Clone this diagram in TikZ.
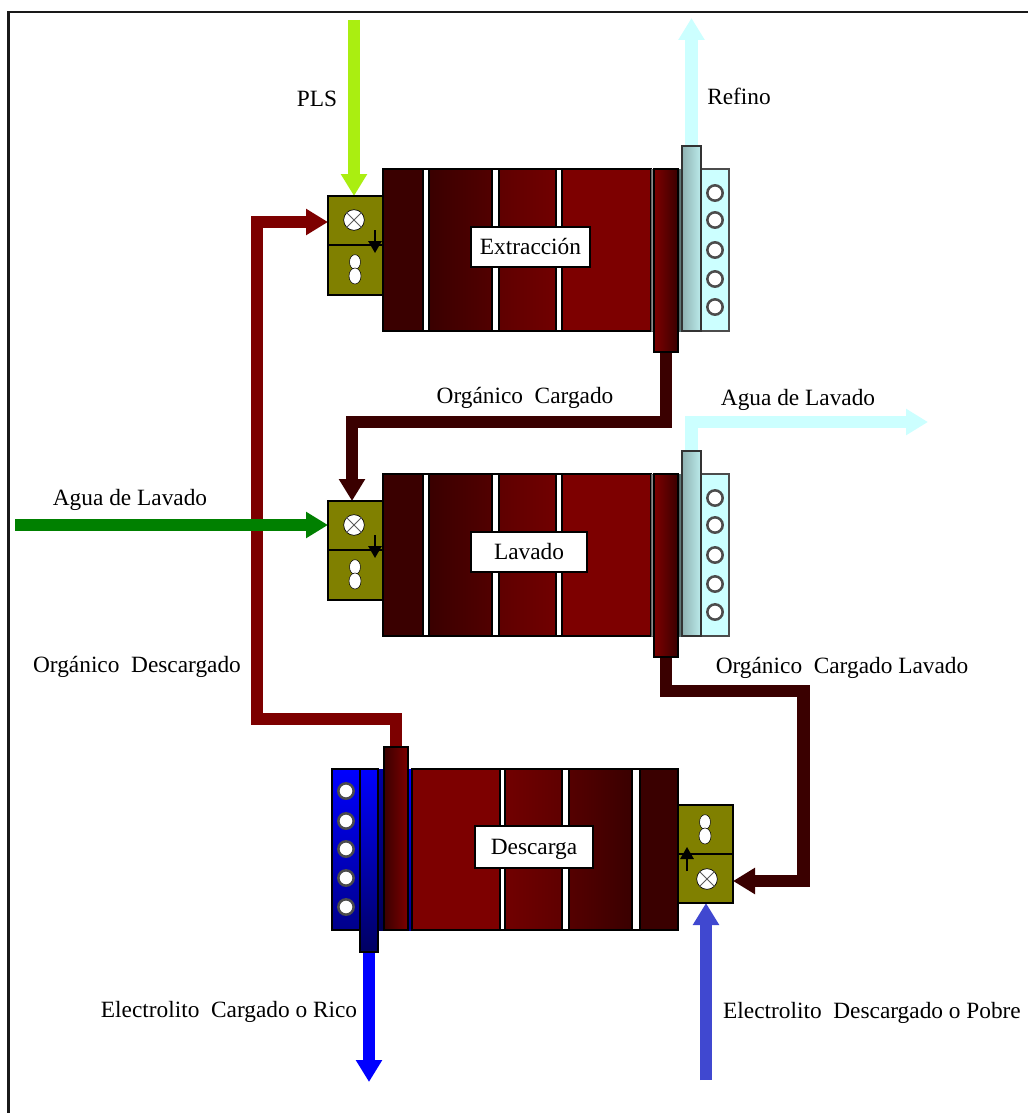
\documentclass[tikz,border=0pt]{standalone}
\usepackage{fontspec}
\setmainfont{Liberation Serif}
\usetikzlibrary{arrows.meta,shapes.geometric,backgrounds}
\definecolor{dk}{HTML}{3A0000}
\definecolor{rd}{HTML}{7D0000}
\definecolor{olv}{HTML}{808000}
\definecolor{pale}{HTML}{CCFFFF}
\definecolor{lime}{HTML}{AAEE11}
\definecolor{grn}{HTML}{008000}
\definecolor{ind}{HTML}{4048D0}
\definecolor{blu}{HTML}{0000FF}
\definecolor{nav}{HTML}{00008B}
\tikzset{
  part/.style={draw=black,line width=1.1pt,inner sep=0pt,outer sep=0pt,rectangle},
  gap/.style={part,fill=white,line width=.8pt},
  mix/.style={part,fill=olv},
  tag/.style={part,fill=white},
  lbl/.style={font=\fontsize{17.5}{20}\selectfont,inner sep=0pt},
  hole/.style={circle,draw=black!70,line width=1.9pt,fill=white,minimum size=11.5pt,inner sep=0pt},
  flow/.style={line width=9.6pt,line join=miter,-{Triangle[length=16.5pt,width=18.75pt]}},
}
\newcommand{\bx}[6]{% name x1 y1 x2 y2 opts
  \pgfmathsetmacro{\bxw}{(#4-#2)*.75}\pgfmathsetmacro{\bxh}{(#5-#3)*.75}
  \pgfmathsetmacro{\bxx}{(#2+#4)/2}\pgfmathsetmacro{\bxy}{(#3+#5)/2}
  \node[part,#6,minimum width=\bxw pt,minimum height=\bxh pt] (#1) at (\bxx,\bxy) {};
}
\newcommand{\valve}[3]{% name x y
  \node[hole,draw=black,line width=.5pt,minimum size=15.5pt] (#1) at (#2,#3) {};
  \draw[black!65,line width=.7pt] (#1.north west)--(#1.south east) (#1.north east)--(#1.south west);
}
\newcommand{\peanut}[3]{% name x y
  \pgfmathsetmacro{\pa}{#3-7}\pgfmathsetmacro{\pb}{#3+7}
  \node[ellipse,draw=black,line width=.4pt,fill=white,inner sep=0pt,minimum width=8.2pt,minimum height=11pt] (#1a) at (#2,\pa) {};
  \node[ellipse,draw=black,line width=.4pt,fill=white,inner sep=0pt,minimum width=9pt,minimum height=12pt] (#1b) at (#2,\pb) {};
}
\newcommand{\unitup}[2]{% prefix dy
  \pgfmathsetmacro{\ya}{169+#2}\pgfmathsetmacro{\yb}{331+#2}
  \pgfmathsetmacro{\yt}{146+#2}\pgfmathsetmacro{\yp}{352+#2}
  \pgfmathsetmacro{\ma}{196+#2}\pgfmathsetmacro{\mb}{245+#2}\pgfmathsetmacro{\mc}{295+#2}
  \bx{#1m1}{328}{\ma}{383}{\mb}{mix}
  \bx{#1m2}{328}{\mb}{383}{\mc}{mix}
  \pgfmathsetmacro{\vy}{220+#2}\valve{#1v}{354}{\vy}
  \pgfmathsetmacro{\py}{269+#2}\peanut{#1n}{355}{\py}
  \pgfmathsetmacro{\aa}{230+#2}\pgfmathsetmacro{\ab}{253+#2}
  \coordinate (#1ai) at (375,\aa); \coordinate (#1ao) at (375,\ab);
  \draw[line width=1.5pt,-{Triangle[length=9pt,width=10pt]}] (#1ai)--(#1ao);
  \bx{#1s1}{383}{\ya}{423}{\yb}{fill=dk}
  \bx{#1g1}{423}{\ya}{429}{\yb}{gap}
  \bx{#1s2}{429}{\ya}{492}{\yb}{left color=dk,right color=rd!35!dk}
  \bx{#1g2}{492}{\ya}{499}{\yb}{gap}
  \bx{#1s3}{499}{\ya}{556}{\yb}{left color=rd!55!dk,right color=rd!82!dk}
  \bx{#1g3}{556}{\ya}{562}{\yb}{gap}
  \bx{#1s4}{562}{\ya}{651}{\yb}{fill=rd}
  \bx{#1g4}{651}{\ya}{654}{\yb}{draw=black!60,line width=.4pt,fill=black!45}
  \bx{#1d}{677}{\ya}{683}{\yb}{draw=none,left color=black!75!pale,right color=black!30!pale}
  \bx{#1b}{701}{\ya}{729}{\yb}{fill=pale,draw=black!70}
  \bx{#1c}{682}{\yt}{701}{\yb}{draw=black!80,left color=black!30!pale,right color=black!8!pale}
  \bx{#1p}{654}{\ya}{678}{\yp}{left color=rd,right color=dk}
  \foreach \k [count=\i] in {193,220,250,279,307}{
    \pgfmathsetmacro{\hy}{\k+#2}
    \node[hole] (#1h\i) at (715,\hy) {};
  }
}
\begin{document}
\begin{tikzpicture}[x=.75pt,y=-.75pt]
\useasboundingbox (0,0) rectangle (1028,1113);
\draw[line width=1.8pt,black!90] (8.5,1113) -- (8.5,12) -- (1028,12);

% units
\unitup{e}{0}
\unitup{l}{305}

% discharge unit
\bx{dm1}{678}{805}{733}{854}{mix}
\bx{dm2}{678}{854}{733}{903}{mix}
\valve{dv}{707}{879}
\peanut{dn}{705}{829}
\coordinate (dai) at (687,871); \coordinate (dao) at (687,847);
\draw[line width=1.5pt,-{Triangle[length=9pt,width=10pt]}] (dai)--(dao);
\bx{dsb}{332}{769}{360}{930}{top color=blu,bottom color=nav}
\bx{dst}{408}{769}{413}{930}{draw=none,top color=blu,bottom color=nav}
\bx{ds4}{412}{769}{500}{930}{fill=rd}
\bx{dg3}{500}{769}{505}{930}{gap}
\bx{ds3}{505}{769}{562}{930}{left color=rd!82!dk,right color=rd!55!dk}
\bx{dg2}{562}{769}{569}{930}{gap}
\bx{ds2}{569}{769}{632}{930}{left color=rd!40!dk,right color=dk}
\bx{dg1}{632}{769}{640}{930}{gap}
\bx{ds1}{640}{769}{678}{930}{fill=dk}
\bx{dd}{378}{769}{384}{930}{draw=none,top color=nav!80!blu,bottom color=nav!60!black}
\bx{dc}{360}{769}{378}{952}{top color=blu,bottom color=nav!70!black}
\bx{dp}{384}{747}{408}{930}{left color=dk,right color=rd}
\foreach \k [count=\i] in {791,821,849,878,907}{
  \node[hole] (dh\i) at (346,\k) {};
}

% tags
\bx{et}{471}{227}{590}{267}{tag}
\node[lbl] (etx) at (et) {Extracción};
\bx{lt}{471}{532}{587}{572}{tag}
\node[lbl] (ltx) at (lt) {Lavado};
\bx{dt}{475}{826}{593}{868}{tag}
\node[lbl,yshift=-2pt] (dtx) at (dt) {Descarga};

% free ends and bends
\coordinate (plsin) at (354,20);
\coordinate (refout) at (ec.north |- 0,18);
\coordinate (oc1) at (ep.south |- 0,422);
\coordinate (oc2) at (352,422);
\coordinate (aw1) at (lc.north |- 0,422);
\coordinate (awtip) at (928,422);
\coordinate (agin) at (15,525);
\coordinate (od1) at (dp.north |- 0,719);
\coordinate (od2) at (257,719);
\coordinate (od3) at (257,222);
\coordinate (ocl1) at (lp.south |- 0,691);
\coordinate (ocl2) at (803.5,691);
\coordinate (ocl3) at (803.5,881);
\coordinate (edin) at (706,1080);
\coordinate (ertip) at (dc.south |- 0,1082);

% connectors
\begin{scope}[on background layer]
\fill[white] (0,0) rectangle (1028,1113);
\draw[flow,lime] (plsin) -- (plsin |- em1.north);
\draw[flow,pale] (ec.north) -- (refout);
\draw[flow,dk] (ep.south) -- (oc1) -- (oc2) -- (oc2 |- lm1.north);
\draw[flow,pale] (lc.north) -- (aw1) -- (awtip);
\draw[flow,rd] (dp.north) -- (od1) -- (od2) -- (od3) -- (em1.west |- od3);
\draw[flow,grn] (agin) -- (lm1.west |- agin);
\draw[flow,dk] (lp.south) -- (ocl1) -- (ocl2) -- (ocl3) -- (dm2.east |- ocl3);
\draw[flow,ind] (edin) -- (edin |- dm2.south);
\draw[flow,blu] (dc.south) -- (ertip);
\end{scope}

% labels
\node[lbl] (t1) at (317,99) {PLS};
\node[lbl] (t2) at (739,96) {Refino};
\node[lbl] (t3) at (525,398) {Orgánico\ \ Cargado};
\node[lbl] (t4) at (798,400) {Agua de Lavado};
\node[lbl] (t5) at (130,500) {Agua de Lavado};
\node[lbl] (t6) at (137,667) {Orgánico\ \ Descargado};
\node[lbl] (t7) at (842,668) {Orgánico\ \ Cargado Lavado};
\node[lbl] (t8) at (229,1012) {Electrolito\ \ Cargado o Rico};
\node[lbl] (t9) at (872,1013) {Electrolito\ \ Descargado o Pobre};
\end{tikzpicture}
\end{document}
